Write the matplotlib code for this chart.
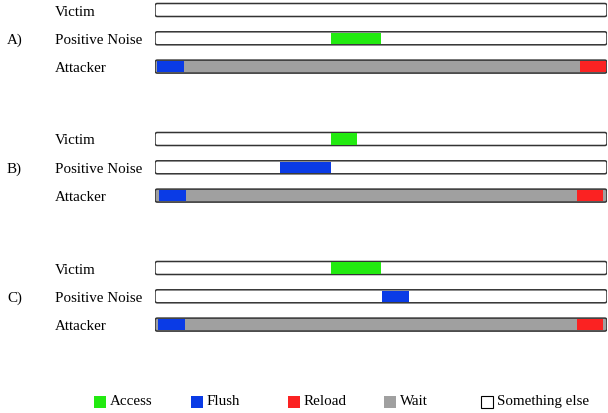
import numpy as np
import matplotlib.pyplot as plt
from matplotlib.patches import FancyBboxPatch, Rectangle

# DATA: timeline in percent of the bar length
scenarios = ['A)', 'B)', 'C)']
actors = ['Victim', 'Positive Noise', 'Attacker']
# segments per scenario, per actor: (start, end, kind)
segments = {
    'A)': [[],
           [(38.9, 50.1, 'Access')],
           [(0.0, 100.0, 'Wait'), (0.5, 6.4, 'Flush'), (94.0, 99.7, 'Reload')]],
    'B)': [[(38.9, 44.7, 'Access')],
           [(27.7, 38.9, 'Flush')],
           [(0.0, 100.0, 'Wait'), (0.9, 6.8, 'Flush'), (93.3, 99.2, 'Reload')]],
    'C)': [[(38.9, 50.1, 'Access')],
           [(50.3, 56.1, 'Flush')],
           [(0.0, 100.0, 'Wait'), (0.7, 6.6, 'Flush'), (93.3, 99.2, 'Reload')]],
}
legend_labels = ['Access', 'Flush', 'Reload', 'Wait', 'Something else']
colors = {'Access': '#22ea10', 'Flush': '#0a3be6', 'Reload': '#fb2222',
          'Wait': '#a0a0a0', 'Something else': 'white'}

W, H = 608, 414
plt.rcParams['font.family'] = 'Liberation Serif'
fig = plt.figure(figsize=(W / 100, H / 100), dpi=100)
ax = fig.add_axes([155 / W, 0, 452 / W, 1])
ax.set_xlim(0, 100)
ax.set_ylim(H, 0)
ax.axis('off')

px = 452 / 100  # pixels per unit on x
bar_h = 13
fs = 10.8

for g, sc in enumerate(scenarios):
    for r, actor in enumerate(actors):
        yc = 11 + g * 129 + r * 28.3
        y0 = yc - bar_h / 2
        segs = segments[sc][r]
        base = 'Wait' if actor == 'Attacker' else 'Something else'
        # outer rounded bar
        box = FancyBboxPatch((0, y0), 100, bar_h,
                             boxstyle='round,pad=0,rounding_size=0.5',
                             mutation_aspect=px, facecolor=colors[base],
                             edgecolor='#333333', lw=1.1, zorder=1)
        ax.add_patch(box)
        for s, e, kind in segs:
            if kind == base:
                continue
            ax.add_patch(Rectangle((s, y0 + 0.8), e - s, bar_h - 1.6,
                                   facecolor=colors[kind], edgecolor='none',
                                   zorder=2))
        fig.text(55 / W, 1 - (yc + 1) / H, actor, fontsize=fs, va='center', ha='left')
        if r == 1:
            fig.text(7 / W, 1 - (yc + 1) / H, sc, fontsize=fs, va='center', ha='left')

# legend
for i, lab in enumerate(legend_labels):
    x0 = 94 + i * 96.8
    fig.patches.append(Rectangle((x0 / W, 1 - 409 / H), 12 / W, 12 / H,
                                 transform=fig.transFigure,
                                 facecolor=colors[lab],
                                 edgecolor='black' if lab == 'Something else' else 'none',
                                 lw=0.8))
    fig.text((x0 + 16) / W, 1 - 402 / H, lab, fontsize=fs, va='center', ha='left')

fig.savefig('out.png', dpi=100)
